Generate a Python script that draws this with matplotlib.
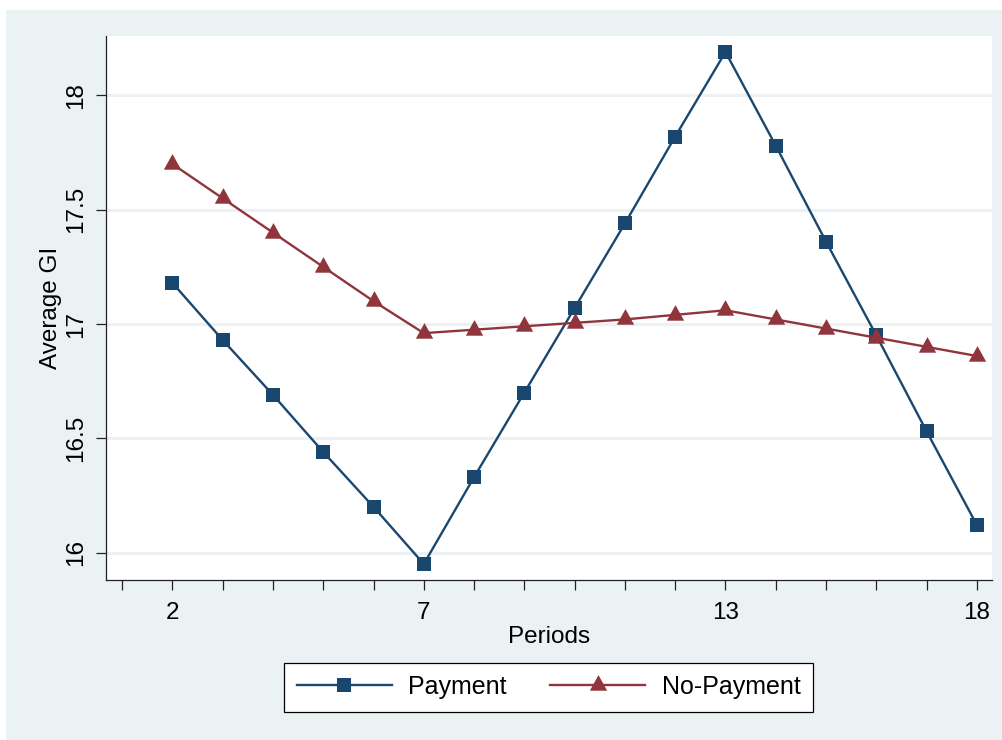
import numpy as np
import matplotlib
matplotlib.use('Agg')
import matplotlib.pyplot as plt
from matplotlib.patches import Rectangle

# Average GI by period for the two treatment groups
periods = [2, 3, 4, 5, 6, 7, 8, 9, 10, 11, 12, 13, 14, 15, 16, 17, 18]
payment = [17.18, 16.93, 16.69, 16.44, 16.20, 15.95, 16.33, 16.70, 17.07,
           17.44, 17.82, 18.19, 17.78, 17.36, 16.95, 16.53, 16.12]
no_payment = [17.70, 17.55, 17.40, 17.25, 17.10, 16.96, 16.975, 16.99, 17.005,
              17.02, 17.04, 17.06, 17.02, 16.98, 16.94, 16.90, 16.86]

x_ticks = [2, 7, 13, 18]
y_ticks = [16, 16.5, 17, 17.5, 18]
y_labels = ['16', '16.5', '17', '17.5', '18']

navy = '#1a476f'
maroon = '#90353b'
bg = '#eaf2f3'

plt.rcParams['font.family'] = ['Liberation Sans', 'DejaVu Sans']

fig = plt.figure(figsize=(10.02, 7.40), dpi=100, facecolor='white')
# shaded graph region (white strip along top and left edge)
fig.patches.append(Rectangle((6 / 1002, 0), 1 - 6 / 1002, 1 - 10 / 740,
                             transform=fig.transFigure, facecolor=bg,
                             edgecolor='none', zorder=-10))

ax = fig.add_axes([106 / 1002, 1 - 580 / 740, 886 / 1002, 544 / 740])
ax.set_facecolor('white')

# triangle centred on its centroid
tri = [(-1, -0.6), (1, -0.6), (0, 1.2)]

ax.plot(periods, payment, color=navy, lw=1.7, marker='s', ms=10,
        mew=0, label='Payment', zorder=3)
ax.plot(periods, no_payment, color=maroon, lw=1.7, marker=tri, ms=15,
        mew=0, label='No-Payment', zorder=3)

ax.set_xlim(0.68, 18.3)
ax.set_ylim(15.88, 18.26)

ax.set_xticks(x_ticks)
ax.set_xticks(range(1, 19), minor=True)
ax.set_yticks(y_ticks)
ax.set_yticklabels(y_labels, rotation=90, va='center')
ax.tick_params(axis='both', which='both', length=7.5, width=0.9,
               labelsize=17.5, color='#222222')
ax.tick_params(axis='x', pad=8)
ax.tick_params(axis='y', pad=6)
ax.grid(axis='y', color='#ecf2f4', lw=2.2, zorder=1)
ax.set_axisbelow(True)

for side in ['top', 'right']:
    ax.spines[side].set_visible(False)
for side in ['left', 'bottom']:
    ax.spines[side].set_linewidth(0.9)
    ax.spines[side].set_color('#222222')

ax.set_xlabel('Periods', fontsize=17.5, labelpad=2)
ax.set_ylabel('Average GI', fontsize=17.5, labelpad=2)

leg = fig.legend(loc='center', bbox_to_anchor=(548.5 / 1002, 1 - 687 / 740),
                 ncol=2, fontsize=18, frameon=True, fancybox=False,
                 edgecolor='black', framealpha=1, handlelength=3.8,
                 handletextpad=0.65, columnspacing=1.75, borderpad=0.5,
                 borderaxespad=0)
leg.get_frame().set_linewidth(0.9)

fig.savefig('out.png', dpi=100, facecolor='white')
